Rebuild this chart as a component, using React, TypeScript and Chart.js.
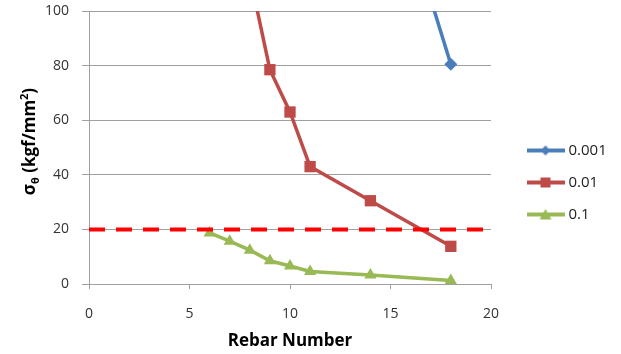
import React, { useEffect, useRef } from 'react';
import { Chart, registerables } from 'chart.js';

Chart.register(...registerables);

// ---- data ----
const seriesNames = ['0.001', '0.01', '0.1'];
const rebar001 = [14, 18];
const stress001 = [176, 80.5];
const rebar01 = [8, 9, 10, 11, 14, 18];
const stress01 = [113, 78.5, 63, 43, 30.5, 13.8];
const rebar1 = [6, 7, 8, 9, 10, 11, 14, 18];
const stress1 = [18.7, 15.7, 12.4, 8.5, 6.6, 4.6, 3.3, 1.3];
const limitX = [0, 20];
const limitY = [20, 20];
const xRange = [0, 20];
const xStep = 5;
const yRange = [0, 100];
const yStep = 20;
const xTitle = 'Rebar Number';

const colors = ['#4A7EBB', '#BE4B48', '#98B954'];
const shapes = ['diamond', 'square', 'triangle'];
const FONT = '"Open Sans", "Liberation Sans", sans-serif';

function pts(xs: number[], ys: number[]) {
  return xs.map((x, i) => ({ x, y: ys[i] }));
}

function makeLegendIcon(color: string, shape: string) {
  const c = document.createElement('canvas');
  c.width = 38;
  c.height = 14;
  const g = c.getContext('2d')!;
  g.strokeStyle = color;
  g.lineWidth = 4;
  g.beginPath();
  g.moveTo(0, 7);
  g.lineTo(38, 7);
  g.stroke();
  g.fillStyle = color;
  g.beginPath();
  if (shape === 'diamond') {
    g.moveTo(19, 2);
    g.lineTo(24, 7);
    g.lineTo(19, 12);
    g.lineTo(14, 7);
  } else if (shape === 'square') {
    g.rect(14, 2, 10, 10);
  } else {
    g.moveTo(19, 1.5);
    g.lineTo(25, 12);
    g.lineTo(13, 12);
  }
  g.closePath();
  g.fill();
  return c;
}

const legendShiftPlugin = {
  id: 'legendShift',
  afterLayout(chart: any) {
    const lg = chart.legend;
    if (lg) {
      lg.left += 22;
      lg.right += 22;
    }
  },
};

const yTitlePlugin = {
  id: 'yTitleCustom',
  afterDraw(chart: any) {
    const ctx = chart.ctx as CanvasRenderingContext2D;
    const area = chart.chartArea;
    const big = `bold 17px ${FONT}`;
    const small = `bold 11px ${FONT}`;
    const parts: [string, string, number][] = [
      ['σ', big, 0],
      ['θ', small, 4],
      [' (kgf/mm', big, 0],
      ['2', small, -7],
      [')', big, 0],
    ];
    ctx.save();
    ctx.translate(35, (area.top + area.bottom) / 2 - 6);
    ctx.rotate(-Math.PI / 2);
    ctx.fillStyle = '#000';
    ctx.textBaseline = 'alphabetic';
    ctx.textAlign = 'left';
    let total = 0;
    for (const p of parts) {
      ctx.font = p[1];
      total += ctx.measureText(p[0]).width;
    }
    let x = -total / 2;
    for (const p of parts) {
      ctx.font = p[1];
      ctx.fillText(p[0], x, p[2]);
      x += ctx.measureText(p[0]).width;
    }
    ctx.restore();
  },
};

export default function App() {
  const ref = useRef<HTMLCanvasElement>(null);

  useEffect(() => {
    if (!ref.current) return;
    const icons = colors.map((c, i) => makeLegendIcon(c, shapes[i]));
    const pointStyles = ['rectRot', 'rect', 'triangle'];
    const pointRadii = [6.5, 8, 7];
    const xsAll = [rebar001, rebar01, rebar1];
    const ysAll = [stress001, stress01, stress1];

    const datasets: any[] = seriesNames.map((name, i) => ({
      label: name,
      data: pts(xsAll[i], ysAll[i]),
      borderColor: colors[i],
      backgroundColor: colors[i],
      borderWidth: 3.5,
      pointStyle: pointStyles[i],
      pointRadius: pointRadii[i],
      pointBorderWidth: 0,
      pointBackgroundColor: colors[i],
      tension: 0,
      order: 1,
    }));
    datasets.push({
      label: 'limit',
      data: pts(limitX, limitY),
      borderColor: '#FF0000',
      borderWidth: 4,
      borderDash: [16, 11],
      pointRadius: 0,
      order: -1,
    });

    const chart = new Chart(ref.current, {
      type: 'line',
      data: { datasets },
      plugins: [yTitlePlugin, legendShiftPlugin],
      options: {
        animation: false,
        responsive: false,
        maintainAspectRatio: false,
        layout: { padding: { top: 11, right: 0, bottom: 0, left: 0 } },
        font: { family: FONT },
        plugins: {
          tooltip: { enabled: false },
          legend: {
            position: 'right',
            labels: {
              usePointStyle: true,
              pointStyleWidth: 31,
              padding: 17,
              color: '#222',
              font: { family: FONT, size: 15 },
              generateLabels: (ch: any) =>
                (Chart.defaults.plugins.legend.labels as any)
                  .generateLabels(ch)
                  .filter((it: any) => it.datasetIndex < seriesNames.length)
                  .map((it: any) => ({ ...it, pointStyle: icons[it.datasetIndex] })),
            },
          },
        },
        scales: {
          x: {
            type: 'linear',
            min: xRange[0],
            max: xRange[1],
            ticks: { stepSize: xStep, padding: 17, color: '#333', font: { family: FONT, size: 14 } },
            grid: { drawOnChartArea: false, drawTicks: true, tickLength: 5, color: '#A0A0A0' },
            border: { display: true, color: '#A0A0A0' },
            title: {
              display: true,
              text: xTitle,
              color: '#000',
              font: { family: FONT, size: 17, weight: 'bold' },
              padding: { top: 0, bottom: 3 },
            },
            afterFit: (s: any) => {
              s.height = 70;
              s.paddingRight = 130;
            },
          },
          y: {
            type: 'linear',
            min: yRange[0],
            max: yRange[1],
            ticks: { stepSize: yStep, padding: 13, color: '#333', font: { family: FONT, size: 14 } },
            grid: { display: true, drawTicks: true, tickLength: 7, color: '#A0A0A0' },
            border: { display: true, color: '#A0A0A0' },
            afterFit: (s: any) => {
              s.width = 89;
              s.paddingTop = 0;
              s.paddingBottom = 0;
            },
          },
        },
      } as any,
    });
    return () => chart.destroy();
  }, []);

  return (
    <div style={{ position: 'fixed', left: 0, top: 0, width: 621, height: 354, background: '#fff' }}>
      <canvas ref={ref} width={621} height={354} style={{ display: 'block' }} />
    </div>
  );
}
